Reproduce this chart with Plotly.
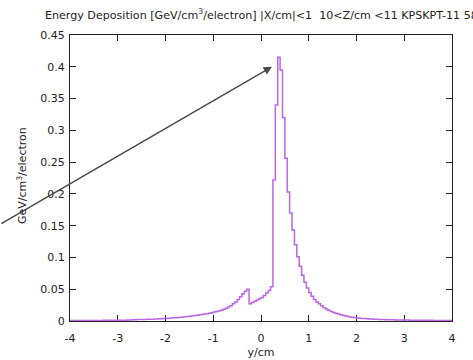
import numpy as np
import plotly.graph_objects as go

# bin centres: 0.05 cm bins from -4 to 4
bin_lo = -4.0
bin_w = 0.05
energy = [
    # -4.0 .. -3.0
    0.0006, 0.0006, 0.0006, 0.0007, 0.0007, 0.0007, 0.0007, 0.0008, 0.0008, 0.0008,
    0.0008, 0.0009, 0.0009, 0.0009, 0.0010, 0.0010, 0.0010, 0.0011, 0.0011, 0.0012,
    # -3.0 .. -2.0
    0.0012, 0.0012, 0.0013, 0.0013, 0.0014, 0.0016, 0.0020, 0.0021, 0.0022, 0.0023,
    0.0024, 0.0025, 0.0026, 0.0028, 0.0029, 0.0031, 0.0033, 0.0035, 0.0037, 0.0039,
    # -2.0 .. -1.0
    0.0041, 0.0044, 0.0047, 0.0050, 0.0053, 0.0056, 0.0060, 0.0064, 0.0068, 0.0072,
    0.0076, 0.0081, 0.0086, 0.0091, 0.0097, 0.0103, 0.0109, 0.0116, 0.0123, 0.0131,
    # -1.0 .. 0.0
    0.0140, 0.0148, 0.0158, 0.0170, 0.0185, 0.0200, 0.0220, 0.0240, 0.0270, 0.0300,
    0.0340, 0.0380, 0.0430, 0.0470, 0.0500, 0.0270, 0.0290, 0.0310, 0.0330, 0.0350,
    # 0.0 .. 1.0
    0.0370, 0.0400, 0.0440, 0.0480, 0.0540, 0.2220, 0.3400, 0.4150, 0.3950, 0.3200,
    0.2560, 0.2030, 0.1700, 0.1430, 0.1200, 0.1010, 0.0860, 0.0720, 0.0610, 0.0520,
    # 1.0 .. 2.0
    0.0450, 0.0390, 0.0340, 0.0300, 0.0270, 0.0240, 0.0210, 0.0190, 0.0170, 0.0150,
    0.0135, 0.0120, 0.0110, 0.0098, 0.0088, 0.0079, 0.0071, 0.0064, 0.0058, 0.0053,
    # 2.0 .. 3.0
    0.0048, 0.0044, 0.0041, 0.0038, 0.0035, 0.0033, 0.0031, 0.0029, 0.0027, 0.0025,
    0.0024, 0.0022, 0.0021, 0.0020, 0.0019, 0.0018, 0.0017, 0.0016, 0.0015, 0.0015,
    # 3.0 .. 4.0
    0.0014, 0.0014, 0.0013, 0.0013, 0.0012, 0.0012, 0.0011, 0.0011, 0.0011, 0.0010,
    0.0010, 0.0010, 0.0009, 0.0009, 0.0009, 0.0008, 0.0008, 0.0008, 0.0007, 0.0007,
]
y_centres = [bin_lo + bin_w * (i + 0.5) for i in range(len(energy))]

x_ticks = [-4, -3, -2, -1, 0, 1, 2, 3, 4]
x_tick_text = ["-4", "-3", "-2", "-1", "0", "1", "2", "3", "4"]
y_ticks = [0, 0.05, 0.1, 0.15, 0.2, 0.25, 0.3, 0.35, 0.4, 0.45]
y_tick_text = ["0", "0.05", "0.1", "0.15", "0.2", "0.25", "0.3", "0.35", "0.4", "0.45"]

# arrow (data coordinates)
arrow_tip = (0.229, 0.400)
arrow_tail = (-5.47, 0.152)

title_text = ("Energy Deposition [GeV/cm<sup>3</sup>/electron] |X/cm|&lt;1  "
              "10&lt;Z/cm &lt;11 KPSKPT-11 58")
y_title = "GeV/cm<sup>3</sup>/electron"

FONT = "DejaVu Sans"

fig = go.Figure()
fig.add_trace(go.Scatter(
    x=[bin_lo] + y_centres + [4.0],
    y=[energy[0]] + energy + [energy[-1]],
    mode="lines",
    line=dict(color="#bb66e4", width=1.5, shape="hvh"),
    showlegend=False,
    hoverinfo="skip",
))

fig.add_annotation(
    x=arrow_tip[0], y=arrow_tip[1], ax=arrow_tail[0], ay=arrow_tail[1],
    xref="x", yref="y", axref="x", ayref="y",
    text="", showarrow=True, arrowhead=2, arrowsize=1.1, arrowwidth=1.5,
    arrowcolor="#4a4a4a", standoff=0, startstandoff=0,
)

# y-axis title placed as rotated text left of the tick labels
fig.add_annotation(
    x=-0.1257, y=0.51, xref="paper", yref="paper", text=y_title,
    textangle=-90, showarrow=False, xanchor="center", yanchor="middle",
    font=dict(family=FONT, size=11, color="#222222"),
)

axis_common = dict(
    showline=True, linecolor="#222222", linewidth=1, mirror="allticks",
    ticks="inside", ticklen=6, tickcolor="#222222", tickwidth=1,
    showgrid=False, zeroline=False, automargin=False,
    tickfont=dict(family=FONT, size=11, color="#222222"),
    layer="below traces",
)

fig.update_layout(
    width=473, height=360,
    margin=dict(l=70, r=21, t=35, b=39),
    paper_bgcolor="white", plot_bgcolor="white",
    font=dict(family=FONT, size=11, color="#222222"),
    title=dict(text=title_text, xref="container", yref="container",
               x=45 / 473, xanchor="left", y=1 - 15 / 360, yanchor="middle",
               font=dict(family=FONT, size=11.1, color="#222222")),
    xaxis=dict(range=[-4, 4], tickvals=x_ticks, ticktext=x_tick_text,
               ticklabelstandoff=7,
               title=dict(text="y/cm", standoff=4, font=dict(family=FONT, size=11)),
               **axis_common),
    yaxis=dict(range=[0, 0.45], tickvals=y_ticks, ticktext=y_tick_text,
               ticklabelstandoff=2, **axis_common),
)

fig.write_html("out.html")
